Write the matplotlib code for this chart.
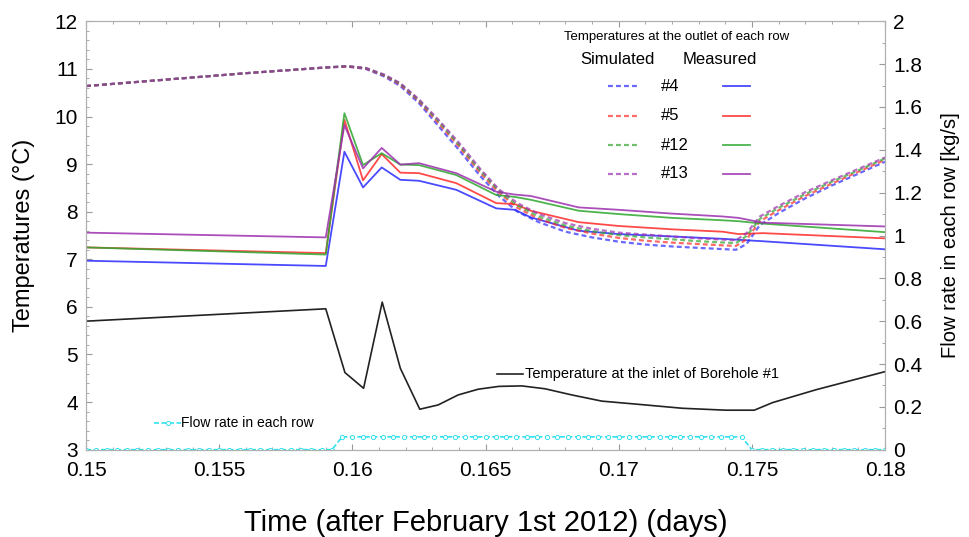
import numpy as np
import matplotlib.pyplot as plt
from matplotlib.ticker import MultipleLocator

plt.rcParams['font.family'] = ['Liberation Sans', 'DejaVu Sans']

# Simulated outlet temperatures (dashed)
sim_t = [0.1500, 0.1520, 0.1540, 0.1560, 0.1580, 0.1590, 0.1598, 0.1605, 0.1612, 0.1618,
         0.1625, 0.1632, 0.1640, 0.1648, 0.1655, 0.1662, 0.1670, 0.1680, 0.1690, 0.1700,
         0.1710, 0.1720, 0.1730, 0.1744, 0.1748, 0.1753, 0.1760, 0.1770, 0.1780, 0.1790, 0.1800]
sim_4 = [10.64, 10.73, 10.82, 10.91, 10.99, 11.03, 11.05, 11.00, 10.84, 10.64,
         10.28, 9.82, 9.30, 8.75, 8.33, 8.00, 7.78, 7.58, 7.46, 7.37,
         7.31, 7.27, 7.24, 7.20, 7.32, 7.72, 7.97, 8.28, 8.55, 8.80, 9.05]
sim_5 = [10.64, 10.73, 10.82, 10.91, 10.99, 11.03, 11.05, 11.01, 10.86, 10.67,
         10.32, 9.88, 9.37, 8.82, 8.40, 8.08, 7.85, 7.66, 7.54, 7.45,
         7.39, 7.35, 7.32, 7.28, 7.42, 7.80, 8.03, 8.33, 8.59, 8.84, 9.09]
sim_12 = [10.64, 10.73, 10.82, 10.91, 10.99, 11.03, 11.06, 11.02, 10.87, 10.69,
          10.34, 9.92, 9.41, 8.86, 8.44, 8.13, 7.90, 7.71, 7.59, 7.51,
          7.46, 7.42, 7.38, 7.34, 7.49, 7.85, 8.08, 8.37, 8.63, 8.87, 9.12]
sim_13 = [10.64, 10.73, 10.82, 10.91, 10.99, 11.03, 11.06, 11.02, 10.88, 10.70,
          10.36, 9.95, 9.45, 8.90, 8.47, 8.18, 7.95, 7.76, 7.64, 7.56,
          7.52, 7.48, 7.44, 7.40, 7.55, 7.90, 8.12, 8.41, 8.66, 8.90, 9.14]

# Measured outlet temperatures (solid)
meas_t = [0.1500, 0.1590, 0.1597, 0.1604, 0.1611, 0.1618, 0.1625, 0.1639, 0.1654, 0.1661,
          0.1667, 0.1685, 0.1700, 0.1720, 0.1739, 0.1745, 0.1754, 0.1800]
meas_4 = [6.97, 6.86, 9.26, 8.51, 8.93, 8.67, 8.65, 8.46, 8.07, 8.04,
          7.88, 7.60, 7.53, 7.48, 7.43, 7.41, 7.38, 7.21]
meas_5 = [7.25, 7.13, 9.93, 8.66, 9.21, 8.82, 8.81, 8.60, 8.18, 8.16,
          8.02, 7.78, 7.70, 7.63, 7.58, 7.53, 7.55, 7.44]
meas_12 = [7.25, 7.10, 10.07, 8.98, 9.23, 8.99, 8.98, 8.77, 8.35, 8.31,
           8.25, 8.02, 7.95, 7.87, 7.82, 7.80, 7.75, 7.57]
meas_13 = [7.56, 7.46, 9.82, 8.91, 9.34, 8.99, 9.02, 8.81, 8.42, 8.36,
           8.33, 8.09, 8.04, 7.96, 7.90, 7.87, 7.77, 7.69]

# Inlet temperature of borehole #1
inlet_t = [0.1500, 0.1590, 0.15972, 0.16042, 0.16112, 0.16180, 0.16253, 0.16322, 0.16397,
           0.16472, 0.16550, 0.16636, 0.16723, 0.16824, 0.16937, 0.1710, 0.17239, 0.17402,
           0.17509, 0.17578, 0.17741, 0.1800]
inlet_T = [5.70, 5.96, 4.62, 4.29, 6.10, 4.71, 3.85, 3.94, 4.15,
           4.27, 4.33, 4.34, 4.28, 4.15, 4.02, 3.94, 3.87, 3.83,
           3.83, 3.99, 4.26, 4.64]

# Flow rate in each row (logged samples)
flow_t = np.linspace(0.15, 0.18, 79)
flow_kgs = [0.0] * 25 + [0.06] * 40 + [0.0] * 14

colors = ['#2a2aff', '#ff2a2a', '#2ea62e', '#9b2fae']
rows = ['#4', '#5', '#12', '#13']
sims = [sim_4, sim_5, sim_12, sim_13]
meas = [meas_4, meas_5, meas_12, meas_13]
dash = (0, (2.2, 1.4))

fig = plt.figure(figsize=(9.69, 5.37), dpi=100)
ax = fig.add_axes([0.0888, 0.1626, 0.8246, 0.7977])
ax2 = ax.twinx()

for c, s, m in zip(colors, sims, meas):
    ax.plot(sim_t, s, color=c, lw=1.6, ls=dash, alpha=0.7)
    ax.plot(meas_t, m, color=c, lw=1.3, alpha=0.85)
ax.plot(inlet_t, inlet_T, color='#222222', lw=1.2)

ax2.plot(flow_t, flow_kgs, color='#33e0ee', lw=1.2, ls=(0, (3, 1.5)),
         marker='o', ms=3, mfc='white', mec='#33e0ee', mew=0.7)

ax.set_xlim(0.15, 0.18)
ax.set_ylim(3, 12)
ax2.set_ylim(0, 2)

ax.xaxis.set_minor_locator(MultipleLocator(0.001))
ax.yaxis.set_minor_locator(MultipleLocator(0.2))
ax2.yaxis.set_minor_locator(MultipleLocator(0.1))
ax.set_xticks([0.15, 0.155, 0.16, 0.165, 0.17, 0.175, 0.18])
ax.set_xticklabels(['0.15', '0.155', '0.16', '0.165', '0.17', '0.175', '0.18'])
ax.set_yticks(range(3, 13))
ax.set_yticklabels([str(v) for v in range(3, 13)])
ax2.set_yticks(np.arange(0, 2.01, 0.2))
ax2.set_yticklabels(['0', '0.2', '0.4', '0.6', '0.8', '1', '1.2', '1.4', '1.6', '1.8', '2'])

for a in (ax, ax2):
    for sp in a.spines.values():
        sp.set_color('#b0b0b0')
ax.tick_params(axis='x', which='both', direction='in', top=True, color='#999999', labelsize=15, pad=8)
ax.tick_params(axis='y', which='both', direction='in', color='#999999', labelsize=15, pad=6)
ax.tick_params(which='major', length=4)
ax.tick_params(which='minor', length=2.5)
ax2.tick_params(axis='y', which='both', direction='in', color='#999999', labelsize=15, pad=6)
ax2.tick_params(which='major', length=4)
ax2.tick_params(which='minor', length=2.5)

ax.set_xlabel('Time (after February 1st 2012) (days)', fontsize=21, labelpad=21)
ax.set_ylabel('Temperatures (°C)', fontsize=17, labelpad=14)
ax2.set_ylabel('Flow rate in each row [kg/s]', fontsize=14.5, labelpad=13)

# legend for the outlet temperatures, drawn by hand
tr = ax.transAxes
ax.text(0.7394, 0.9626, 'Temperatures at the outlet of each row', transform=tr,
        ha='center', va='center', fontsize=9.5)
ax.text(0.665, 0.9113, 'Simulated', transform=tr, ha='center', va='center', fontsize=12)
ax.text(0.7935, 0.9113, 'Measured', transform=tr, ha='center', va='center', fontsize=12)
row_y = [0.849, 0.779, 0.711, 0.644]
for c, name, yy in zip(colors, rows, row_y):
    ax.plot([0.6533, 0.6896], [yy, yy], transform=tr, color=c, lw=1.6, ls=dash, alpha=0.7)
    ax.text(0.7193, yy, name, transform=tr, ha='left', va='center', fontsize=12)
    ax.plot([0.7969, 0.8311], [yy, yy], transform=tr, color=c, lw=1.3, alpha=0.85)

ax.plot([0.514, 0.5467], [0.1767, 0.1767], transform=tr, color='#222222', lw=1.2)
ax.text(0.5495, 0.1767, 'Temperature at the inlet of Borehole #1', transform=tr,
        ha='left', va='center', fontsize=10.5)

ax.plot([0.0851, 0.1189], [0.063, 0.063], transform=tr, color='#33e0ee', lw=1.2,
        ls=(0, (3, 1.5)))
ax.plot([0.102], [0.063], transform=tr, marker='o', ms=3, mfc='white', mec='#33e0ee', mew=0.7)
ax.text(0.1189, 0.063, 'Flow rate in each row', transform=tr, ha='left', va='center',
        fontsize=10)

fig.savefig('out.png', dpi=100)
